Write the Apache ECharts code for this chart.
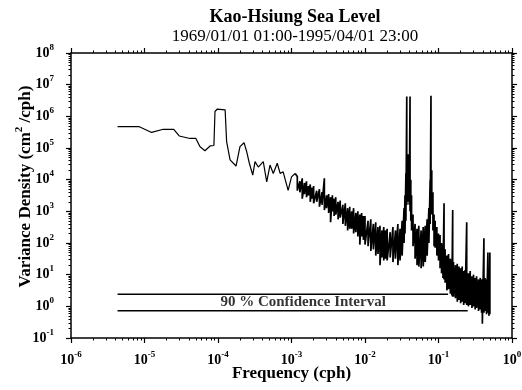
<!DOCTYPE html>
<html>
<head>
<meta charset="utf-8">
<script src="https://cdn.jsdelivr.net/npm/echarts@6/dist/echarts.min.js"></script>
<style>
  html, body { margin: 0; padding: 0; background: #fff; }
  #chart { width: 522px; height: 390px; }
</style>
</head>
<body>
<div id="chart"></div>
<script>
// smooth low-frequency part of the spectrum (cph, cm^2/cph)
var lowFreq = [4.3e-6, 8.5e-6, 1.25e-5, 1.8e-5, 2.5e-5, 2.97e-5, 4.15e-5, 5.0e-5, 5.7e-5, 6.65e-5,
  7.8e-5, 8.8e-5, 9.1e-5, 9.8e-5, 1.25e-4, 1.31e-4, 1.46e-4, 1.76e-4, 1.99e-4, 2.26e-4,
  2.46e-4, 2.67e-4, 2.97e-4, 3.19e-4, 3.53e-4, 4.13e-4, 4.6e-4, 5.1e-4, 5.65e-4, 6.4e-4,
  7.0e-4, 7.7e-4, 9.0e-4, 1.0e-3, 1.12e-3]
var lowDensity = [4.7e5, 4.7e5, 3.1e5, 3.9e5, 3.9e5, 2.4e5, 2.0e5, 2.0e5, 1.1e5, 8.2e4,
  1.16e5, 1.2e5, 1.42e6, 1.7e6, 1.6e6, 1.6e5, 4.2e4, 2.7e4, 1.1e5, 1.47e5,
  7.6e4, 3.3e4, 1.4e4, 3.7e4, 2.5e4, 3.7e4, 8.5e3, 2.9e4, 1.57e4, 3.3e4,
  1.57e4, 1.77e4, 4.6e3, 1.23e4, 1.57e4]

// noisy part: top and bottom of the trace at each frequency
var bandFreq = [
  1.2e-3, 1.3e-3, 1.4e-3, 1.5e-3, 1.6e-3, 1.7e-3, 1.8e-3, 1.9e-3, 2.0e-3, 2.2e-3,
  2.4e-3, 2.6e-3, 2.8e-3, 3.0e-3, 3.2e-3, 3.4e-3, 3.6e-3, 3.8e-3, 4.0e-3, 4.3e-3,
  4.6e-3, 5.0e-3, 5.4e-3, 5.8e-3, 6.2e-3, 6.6e-3, 7.0e-3, 7.5e-3, 8.0e-3, 8.5e-3,
  9.0e-3, 9.5e-3,
  1.0e-2, 1.1e-2, 1.2e-2, 1.3e-2, 1.4e-2, 1.5e-2, 1.6e-2, 1.7e-2, 1.8e-2, 1.9e-2,
  2.0e-2, 2.2e-2, 2.4e-2, 2.6e-2, 2.8e-2, 3.0e-2, 3.2e-2, 3.4e-2, 3.5e-2, 3.6e-2,
  3.7e-2, 3.8e-2, 3.9e-2, 4.0e-2, 4.1e-2, 4.2e-2, 4.3e-2, 4.5e-2, 4.8e-2, 5.1e-2,
  5.4e-2, 5.8e-2, 6.2e-2, 6.6e-2, 7.0e-2, 7.4e-2, 7.7e-2, 7.9e-2, 8.1e-2, 8.4e-2,
  8.7e-2, 9.0e-2, 9.5e-2,
  0.100, 0.105, 0.110, 0.115, 0.119, 0.123, 0.130, 0.137, 0.145, 0.152,
  0.156, 0.160, 0.170, 0.180, 0.190, 0.200, 0.210, 0.220, 0.230, 0.242,
  0.255, 0.270, 0.285, 0.300, 0.315, 0.330, 0.350, 0.370, 0.385, 0.395,
  0.415, 0.430, 0.450, 0.470, 0.485, 0.500]
var bandHigh = [
  1.26e4, 8.9e3, 1.1e4, 7.9e3, 8.9e3, 6.3e3, 7.1e3, 5.6e3, 6.3e3, 4.5e3,
  5.0e3, 4.0e3, 1.1e4, 3.2e3, 3.5e3, 2.8e3, 3.2e3, 2.5e3, 2.8e3, 2.0e3,
  2.2e3, 1.6e3, 1.8e3, 1.26e3, 1.4e3, 1.0e3, 1.26e3, 890, 1.0e3, 790,
  890, 710,
  710, 500, 560, 400, 450, 320, 350, 250, 320, 250,
  280, 220, 320, 250, 400, 280, 500, 1.26e3, 3.2e3, 1.6e4,
  4.2e6, 4.0e4, 6.3e4, 2.5e4, 4.2e6, 1.0e4, 3.2e3, 790, 400, 280,
  350, 250, 320, 350, 560, 1.26e3, 1.0e4, 4.5e6, 2.0e4, 4.0e3,
  790, 500, 320,
  200, 180, 100, 89, 1.8e3, 63, 40, 45, 32, 28,
  1.1e3, 25, 20, 22, 18, 16, 18, 13, 14, 450,
  11, 13, 8.9, 10, 7.9, 8.9, 7.1, 7.9, 7.1, 7.1,
  140, 7.9, 7.1, 50, 8.9, 50]
var bandLow = [
  4.5e3, 4.0e3, 2.5e3, 3.5e3, 2.8e3, 3.2e3, 2.0e3, 2.5e3, 1.8e3, 2.0e3,
  1.4e3, 1.6e3, 1.1e3, 1.26e3, 890, 450, 1.0e3, 710, 790, 560,
  630, 400, 350, 250, 280, 280, 200, 220, 160, 89,
  160, 126,
  89, 79, 56, 63, 40, 45, 20, 35, 28, 32,
  28, 35, 25, 32, 20, 28, 40, 100, 200, 500,
  1.6e3, 2.0e3, 2.5e3, 1.6e3, 1.0e3, 500, 250, 79, 32, 20,
  18, 16, 18, 25, 40, 100, 400, 1.6e3, 790, 250,
  79, 71, 40,
  28, 16, 11, 7.9, 7.1, 5.6, 3.2, 3.5, 2.5, 2.2,
  2.0, 2.0, 1.8, 1.4, 1.6, 1.26, 1.4, 1.1, 1.26, 1.1,
  1.0, 1.1, 0.89, 1.0, 0.79, 0.89, 0.71, 0.79, 0.63, 0.28,
  0.63, 0.71, 0.56, 0.63, 0.5, 0.56]

// 90 % confidence interval bars
var ciStart = 4.3e-6
var ciUpper = 2.4
var ciUpperEnd = 0.135
var ciLower = 0.72
var ciLowerEnd = 0.25
var ciLabelAt = [1.44e-3, 1.33]

// decades shown on the axes
var xExponents = [-6, -5, -4, -3, -2, -1, 0]
var yExponents = [-1, 0, 1, 2, 3, 4, 5, 6, 7, 8]

var serif = 'Liberation Serif'

var lowTrace = lowFreq.map(function (f, i) {
    return [f, lowDensity[i]]
})
// the noisy trace starts where the smooth one ends
var bandTrace = [lowTrace[lowTrace.length - 1]]
bandFreq.forEach(function (f, i) {
    bandTrace.push([f, bandHigh[i]])
    bandTrace.push([f, bandLow[i]])
})

function powerLabel(value) {
    var e = Math.round(Math.log10(value))
    return '{b|10}{s|' + e + '}'
}

var labelRich = {
    b: {fontFamily: serif, fontWeight: 'bold', fontSize: 14, color: '#000', lineHeight: 20},
    s: {fontFamily: serif, fontWeight: 'bold', fontSize: 9, color: '#000', verticalAlign: 'top', lineHeight: 10}
}

function logAxis(pos, exps, showLabel) {
    return {
        type: 'log',
        logBase: 10,
        position: pos,
        min: Math.pow(10, exps[0]),
        max: Math.pow(10, exps[exps.length - 1]),
        splitNumber: exps.length - 1,
        axisLine: {show: true, onZero: false, lineStyle: {color: '#000', width: 1.5}},
        axisTick: {show: true, inside: false, length: 5, lineStyle: {color: '#000', width: 1.2}},
        minorTick: {show: true, splitNumber: 9, length: 2.5, lineStyle: {color: '#000', width: 1}},
        splitLine: {show: false},
        axisLabel: {
            show: showLabel,
            margin: 12,
            formatter: powerLabel,
            rich: labelRich
        }
    }
}

var xBottom = logAxis('bottom', xExponents, true)
xBottom.name = 'Frequency (cph)'
xBottom.nameLocation = 'middle'
xBottom.nameGap = 27
xBottom.nameMoveOverlap = false
xBottom.nameTextStyle = {fontFamily: serif, fontWeight: 'bold', fontSize: 17, color: '#000'}

var yLeft = logAxis('left', yExponents, true)
yLeft.axisLabel.margin = 17
yLeft.name = '{a|Variance Density (cm}{s|2}{a| /cph)}'
yLeft.nameLocation = 'middle'
yLeft.nameRotate = 90
yLeft.nameGap = 33
yLeft.nameMoveOverlap = false
yLeft.nameTextStyle = {
    padding: [0, 0, 0, 18],
    rich: {
        a: {fontFamily: serif, fontWeight: 'bold', fontSize: 17, color: '#000', lineHeight: 24},
        s: {fontFamily: serif, fontWeight: 'bold', fontSize: 11, color: '#000', verticalAlign: 'top', lineHeight: 12}
    }
}

var chart = echarts.init(document.getElementById('chart'), null, {renderer: 'canvas'})

chart.setOption({
    backgroundColor: '#fff',
    animation: false,
    title: {
        text: 'Kao-Hsiung Sea Level',
        subtext: '1969/01/01 01:00-1995/04/01 23:00',
        left: 290,
        textAlign: 'center',
        top: 3,
        itemGap: 0,
        textStyle: {fontFamily: serif, fontWeight: 'bold', fontSize: 18, color: '#000', lineHeight: 19},
        subtextStyle: {fontFamily: serif, fontWeight: 'normal', fontSize: 17, color: '#000', lineHeight: 19}
    },
    grid: {left: 71, right: 10, top: 53, bottom: 52, outerBoundsMode: 'none', containLabel: false},
    xAxis: [xBottom, logAxis('top', xExponents, false)],
    yAxis: [yLeft, logAxis('right', yExponents, false)],
    series: [
        {
            name: 'ci upper',
            type: 'line',
            data: [[ciStart, ciUpper], [ciUpperEnd, ciUpper]],
            symbol: 'none',
            lineStyle: {color: '#000', width: 1.5},
            z: 2
        },
        {
            name: 'ci lower',
            type: 'line',
            data: [[ciStart, ciLower], [ciLowerEnd, ciLower]],
            symbol: 'none',
            lineStyle: {color: '#000', width: 1.5},
            z: 2
        },
        {
            name: 'ci label',
            type: 'scatter',
            data: [ciLabelAt],
            symbolSize: 0,
            label: {
                show: true,
                position: 'inside',
                formatter: '90 % Confidence Interval',
                fontFamily: serif,
                fontWeight: 'bold',
                fontSize: 15,
                color: '#000'
            },
            z: 2
        },
        {
            name: 'spectrum low',
            type: 'line',
            data: lowTrace,
            symbol: 'none',
            lineStyle: {color: '#000', width: 1.2},
            z: 3
        },
        {
            name: 'spectrum band',
            type: 'line',
            data: bandTrace,
            symbol: 'none',
            lineStyle: {color: '#000', width: 1.7},
            z: 3
        }
    ]
})
</script>
</body>
</html>
